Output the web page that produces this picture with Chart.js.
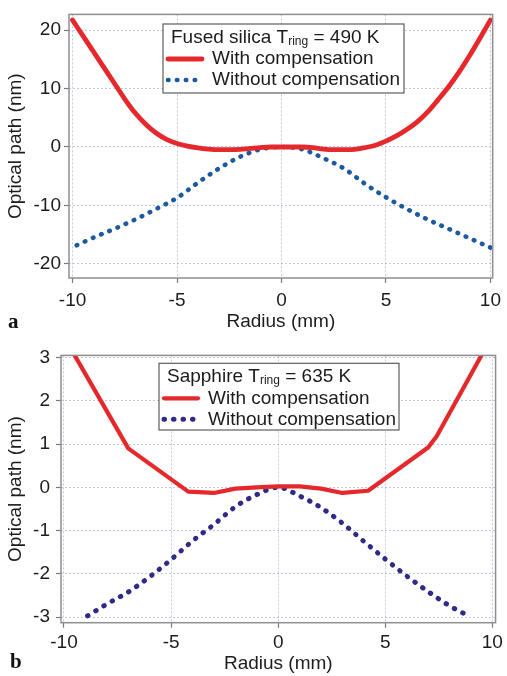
<!DOCTYPE html>
<html>
<head>
<meta charset="utf-8">
<script src="https://cdn.jsdelivr.net/npm/chart.js@4"></script>
<style>
  html, body { margin: 0; padding: 0; background: #fff; }
  #page { position: relative; width: 507px; height: 676px; overflow: hidden; }
  .panel { position: absolute; left: 0; width: 507px; height: 338px; }
  .tag { position: absolute; font-family: "Liberation Serif", "DejaVu Serif", serif; font-weight: bold; font-size: 21px; color: #111; line-height: 1; }
</style>
</head>
<body>
<div id="page">
  <div class="panel" style="top:0"><canvas id="chartA"></canvas></div>
  <div class="panel" style="top:338px"><canvas id="chartB"></canvas></div>
  <div class="tag" style="left:8px;top:311px">a</div>
  <div class="tag" style="left:10px;top:651px">b</div>
</div>
<script>
// panel a - fused silica, T_ring = 490 K
const radiusA = [-10, -9.5, -9, -8.5, -8, -7.5, -7, -6.5, -6, -5.5, -5, -4.5, -4, -3.5, -3, -2.5, -2, -1.5, -1, -0.5,
                 0, 0.5, 1, 1.5, 2, 2.5, 3, 3.5, 4, 4.5, 5, 5.5, 6, 6.5, 7, 7.5, 8, 8.5, 9, 9.5, 10];
const withCompA = [21.7, 19.0, 16.3, 13.6, 10.9, 8.2, 5.8, 3.9, 2.4, 1.3, 0.6, 0.15, -0.15, -0.35, -0.45, -0.45, -0.4, -0.25, -0.1, 0,
                   0, 0, 0, -0.1, -0.35, -0.45, -0.45, -0.4, -0.1, 0.3, 1.0, 1.9, 3.0, 4.3, 6.0, 8.1, 10.3, 12.8, 15.6, 18.6, 21.7];
const radiusNoCompA = [-9.8, -9, -8, -7, -6, -5, -4, -3, -2, -1, 0, 1, 2, 3, 4, 5, 6, 7, 8, 9, 10];
const withoutCompA = [-16.8, -15.5, -14.0, -12.4, -10.6, -8.7, -6.1, -3.7, -1.7, -0.4, 0, -0.4, -1.9, -3.7, -6.3, -8.6, -10.6, -12.4, -14.0, -15.6, -17.2];
const xTicksA = [-10, -5, 0, 5, 10];
const yTicksA = [-20, -10, 0, 10, 20];

// panel b - sapphire, T_ring = 635 K
const radiusB = [-9.5, -7, -4.2, -3, -2, -1, 0, 1, 2, 3, 4.2, 7, 7.4, 9.5];
const withCompB = [3.05, 0.9, -0.1, -0.13, -0.03, 0, 0.02, 0.02, -0.03, -0.13, -0.08, 0.92, 1.18, 3.06];
const radiusNoCompB = [-8.9, -8, -7, -6, -5, -4, -3, -2, -1, 0, 1, 2, 3, 4, 5, 6, 7, 8, 9];
const withoutCompB = [-2.97, -2.7, -2.42, -2.07, -1.67, -1.24, -0.86, -0.45, -0.17, 0, -0.2, -0.47, -0.83, -1.25, -1.66, -2.05, -2.41, -2.74, -3.0];
const xTicksB = [-10, -5, 0, 5, 10];
const yTicksB = [-3, -2, -1, 0, 1, 2, 3];

const seriesNames = ['With compensation', 'Without compensation'];

const FONT = '"Liberation Sans", Arial, Helvetica, sans-serif';
const INK = '#1c1c1c';
const RED = '#e4282c';

function toPoints(xs, ys) {
    return xs.map((x, i) => ({ x: x, y: ys[i] }));
}

// box around the plot area and the key with its subscripted title
const frameAndKey = {
    id: 'frameAndKey',
    afterDatasetsDraw(chart, args, opts) {
        const { ctx, chartArea: a } = chart;
        ctx.save();
        ctx.strokeStyle = '#8e8e8e';
        ctx.lineWidth = 1.5;
        ctx.strokeRect(a.left, a.top, a.right - a.left, a.bottom - a.top);

        const k = opts.box;
        ctx.fillStyle = '#fff';
        ctx.fillRect(k.x, k.y, k.w, k.h);
        ctx.strokeStyle = '#5e5e5e';
        ctx.lineWidth = 1.2;
        ctx.strokeRect(k.x, k.y, k.w, k.h);

        ctx.fillStyle = INK;
        ctx.textBaseline = 'middle';
        ctx.textAlign = 'left';
        const rows = [k.y + 13.5, k.y + 35, k.y + 56];

        // title: main text, small lowered "ring", then the rest
        let tx = k.x + opts.titleInset;
        ctx.font = '19px ' + FONT;
        ctx.fillText(opts.title[0], tx, rows[0]);
        tx += ctx.measureText(opts.title[0]).width;
        ctx.font = '12px ' + FONT;
        ctx.fillText(opts.title[1], tx, rows[0] + 4);
        tx += ctx.measureText(opts.title[1]).width;
        ctx.font = '19px ' + FONT;
        ctx.fillText(opts.title[2], tx, rows[0]);

        chart.data.datasets.forEach((ds, i) => {
            const y = rows[i + 1];
            ctx.save();
            ctx.strokeStyle = ds.borderColor;
            ctx.lineWidth = ds.borderWidth;
            ctx.lineCap = ds.borderCapStyle || 'butt';
            ctx.setLineDash(ds.borderDash || []);
            ctx.beginPath();
            ctx.moveTo(k.x + 5, y);
            ctx.lineTo(k.x + 39, y);
            ctx.stroke();
            ctx.restore();
            ctx.font = '19px ' + FONT;
            ctx.fillStyle = INK;
            ctx.fillText(ds.label, k.x + 49, y);
        });
        ctx.restore();
    }
};

function makeChart(canvasId, cfg) {
    const tickFont = { family: FONT, size: 19 };
    return new Chart(document.getElementById(canvasId), {
        type: 'line',
        data: {
            datasets: [
                {
                    label: seriesNames[0],
                    data: toPoints(cfg.xWith, cfg.yWith),
                    borderColor: RED,
                    borderWidth: cfg.redWidth,
                    borderCapStyle: 'round',
                    borderJoinStyle: 'round',
                    tension: cfg.redSmooth ? 0.4 : 0,
                    cubicInterpolationMode: cfg.redSmooth ? 'monotone' : 'default',
                    pointRadius: 0,
                    fill: false
                },
                {
                    label: seriesNames[1],
                    data: toPoints(cfg.xWithout, cfg.yWithout),
                    borderColor: cfg.blue,
                    borderWidth: cfg.dotSize,
                    borderCapStyle: 'round',
                    borderDash: [0.5, cfg.dotGap],
                    cubicInterpolationMode: 'monotone',
                    pointRadius: 0,
                    fill: false
                }
            ]
        },
        options: {
            responsive: true,
            maintainAspectRatio: false,
            animation: false,
            events: [],
            layout: { padding: cfg.padding },
            plugins: {
                legend: { display: false },
                tooltip: { enabled: false },
                frameAndKey: { box: cfg.box, titleInset: cfg.titleInset, title: cfg.title }
            },
            scales: {
                x: {
                    type: 'linear',
                    min: cfg.xMin,
                    max: cfg.xMax,
                    afterBuildTicks: s => { s.ticks = cfg.xTicks.map(v => ({ value: v })); },
                    afterFit: s => { s.height = cfg.xAxisHeight; },
                    ticks: { font: tickFont, color: INK, padding: cfg.xTickPad, maxRotation: 0, autoSkip: false },
                    grid: { color: 'rgba(140,155,210,0.55)', lineWidth: 1, tickColor: '#7a7a7a', tickLength: 5, tickWidth: 1.2 },
                    border: { display: false, dash: [2, 2] },
                    title: { display: true, text: 'Radius (mm)', font: tickFont, color: INK, padding: { top: 0, bottom: cfg.xTitlePad } }
                },
                y: {
                    type: 'linear',
                    min: cfg.yMin,
                    max: cfg.yMax,
                    afterBuildTicks: s => { s.ticks = cfg.yTicks.map(v => ({ value: v })); },
                    afterFit: s => { s.width = cfg.yAxisWidth; },
                    ticks: { font: tickFont, color: INK, padding: cfg.yTickPad },
                    grid: { color: 'rgba(140,155,210,0.55)', lineWidth: 1, tickColor: '#7a7a7a', tickLength: 5, tickWidth: 1.2 },
                    border: { display: false, dash: [2, 2] },
                    title: { display: true, text: 'Optical path (nm)', font: tickFont, color: INK, padding: { top: 4, bottom: 0 } }
                }
            }
        },
        plugins: [frameAndKey]
    });
}

makeChart('chartA', {
    xWith: radiusA, yWith: withCompA,
    xWithout: radiusNoCompA, yWithout: withoutCompA,
    xTicks: xTicksA, yTicks: yTicksA,
    xMin: -10.17, xMax: 10.11, yMin: -22.4, yMax: 22.67,
    redSmooth: true, redWidth: 4.8,
    blue: '#1c5a9f', dotSize: 4.6, dotGap: 8.4,
    padding: { top: 7, right: 9, left: 0, bottom: 0 },
    xAxisHeight: 60, yAxisWidth: 69,
    xTickPad: 6, xTitlePad: 5, yTickPad: 3,
    box: { x: 163, y: 24, w: 241, h: 69 },
    titleInset: 8,
    title: ['Fused silica T', 'ring', ' = 490 K']
});

makeChart('chartB', {
    xWith: radiusB, yWith: withCompB,
    xWithout: radiusNoCompB, yWithout: withoutCompB,
    xTicks: xTicksB, yTicks: yTicksB,
    xMin: -10.14, xMax: 10.15, yMin: -3.13, yMax: 3.05,
    redSmooth: false, redWidth: 4.2,
    blue: '#2d2b86', dotSize: 5, dotGap: 9,
    padding: { top: 15, right: 8, left: 0, bottom: 0 },
    xAxisHeight: 53.3, yAxisWidth: 61,
    xTickPad: 4, xTitlePad: 1, yTickPad: 6,
    box: { x: 159, y: 25.3, w: 240, h: 66.7 },
    titleInset: 8,
    title: ['Sapphire T', 'ring', ' = 635 K']
});
</script>
</body>
</html>
